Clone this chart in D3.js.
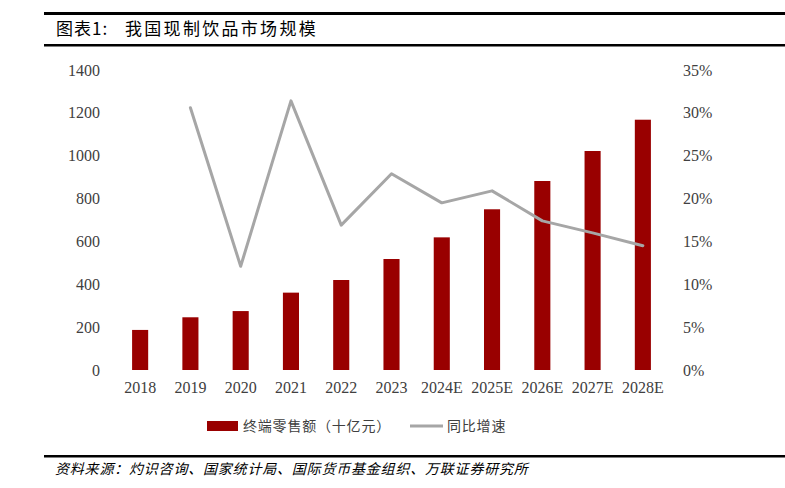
<!DOCTYPE html>
<html><head><meta charset="utf-8">
<script src="https://cdn.jsdelivr.net/npm/d3@7/dist/d3.min.js"></script>
<style>body{margin:0;background:#fff}svg{display:block}</style>
</head><body>
<svg id="c" width="785" height="488"></svg>
<script>
const categories = ["2018","2019","2020","2021","2022","2023","2024E","2025E","2026E","2027E","2028E"];
const retailSales = [187, 246, 275, 361, 420, 518, 619, 750, 882, 1022, 1168];
const yoyGrowth = [null, 30.6, 12.1, 31.4, 16.9, 22.9, 19.5, 20.9, 17.4, 16.0, 14.5];
const leftTicks = [0,200,400,600,800,1000,1200,1400];
const rightTicks = [0,5,10,15,20,25,30,35];
const titleLabel = "图表1:";
const titleText = "我国现制饮品市场规模";
const source = "资料来源：灼识咨询、国家统计局、国际货币基金组织、万联证券研究所";
const legendLabels = ["终端零售额（十亿元）","同比增速"];

const svg = d3.select("#c");
const serif = "'Liberation Serif','Times New Roman',serif";
const cjk = "'Noto Sans CJK SC',sans-serif";

svg.append("rect").attr("x",44).attr("y",12).attr("width",741).attr("height",3).attr("fill","#000");
svg.append("rect").attr("x",44).attr("y",44).attr("width",741).attr("height",2.5).attr("fill","#000");
svg.append("rect").attr("x",44).attr("y",455).attr("width",741).attr("height",2.5).attr("fill","#000");

svg.append("text").attr("x",56).attr("y",35).attr("font-family",cjk).attr("font-size",17)
  .attr("letter-spacing",1).attr("fill","#000").text(titleLabel);
svg.append("text").attr("x",125).attr("y",35).attr("font-family",cjk).attr("font-size",17)
  .attr("letter-spacing",2.3).attr("fill","#000").text(titleText);
svg.append("text").attr("x",55).attr("y",474).attr("font-family",cjk).attr("font-size",14)
  .attr("letter-spacing",0.8).attr("font-style","italic").attr("fill","#000").text(source);

const x = d3.scaleBand().domain(categories).range([115,668]).paddingInner(0.68).paddingOuter(0.34);
const yL = d3.scaleLinear().domain([0,1400]).range([370,70]);
const yR = d3.scaleLinear().domain([0,35]).range([370,70]);

const la = svg.append("g").attr("transform","translate(100,0)")
  .call(d3.axisLeft(yL).tickValues(leftTicks).tickSize(0).tickPadding(0).tickFormat(d3.format("d")));
la.select(".domain").remove();
la.selectAll("text").attr("font-family",serif).attr("font-size",16).attr("fill","#404040");

const ra = svg.append("g").attr("transform","translate(683,0)")
  .call(d3.axisRight(yR).tickValues(rightTicks).tickSize(0).tickPadding(0).tickFormat(d=>d+"%"));
ra.select(".domain").remove();
ra.selectAll("text").attr("font-family",serif).attr("font-size",16).attr("fill","#404040");

const xa = svg.append("g").attr("transform","translate(0,370)")
  .call(d3.axisBottom(x).tickSize(0).tickPadding(12));
xa.select(".domain").remove();
xa.selectAll("text").attr("font-family",serif).attr("font-size",16).attr("fill","#404040");

svg.append("g").selectAll("rect").data(categories).join("rect")
  .attr("x",d=>x(d)).attr("width",x.bandwidth())
  .attr("y",(d,i)=>yL(retailSales[i])).attr("height",(d,i)=>yL(0)-yL(retailSales[i]))
  .attr("fill","#990000");

const pts = categories.map((c,i)=>({c,v:yoyGrowth[i]})).filter(d=>d.v!=null);
svg.append("path").datum(pts)
  .attr("d",d3.line().x(d=>x(d.c)+x.bandwidth()/2).y(d=>yR(d.v)))
  .attr("fill","none").attr("stroke","#A6A6A6").attr("stroke-width",3).attr("stroke-linecap","round").attr("stroke-linejoin","round");

const lg = svg.append("g");
lg.append("rect").attr("x",207).attr("y",421).attr("width",31).attr("height",10).attr("fill","#990000");
lg.append("text").attr("x",243).attr("y",431).attr("font-family",cjk).attr("font-size",14).attr("letter-spacing",0.8).attr("fill","#404040").text(legendLabels[0]);
lg.append("line").attr("x1",410).attr("x2",443).attr("y1",426).attr("y2",426).attr("stroke","#A6A6A6").attr("stroke-width",3);
lg.append("text").attr("x",447).attr("y",431).attr("font-family",cjk).attr("font-size",14).attr("letter-spacing",0.8).attr("fill","#404040").text(legendLabels[1]);
</script>
</body></html>
